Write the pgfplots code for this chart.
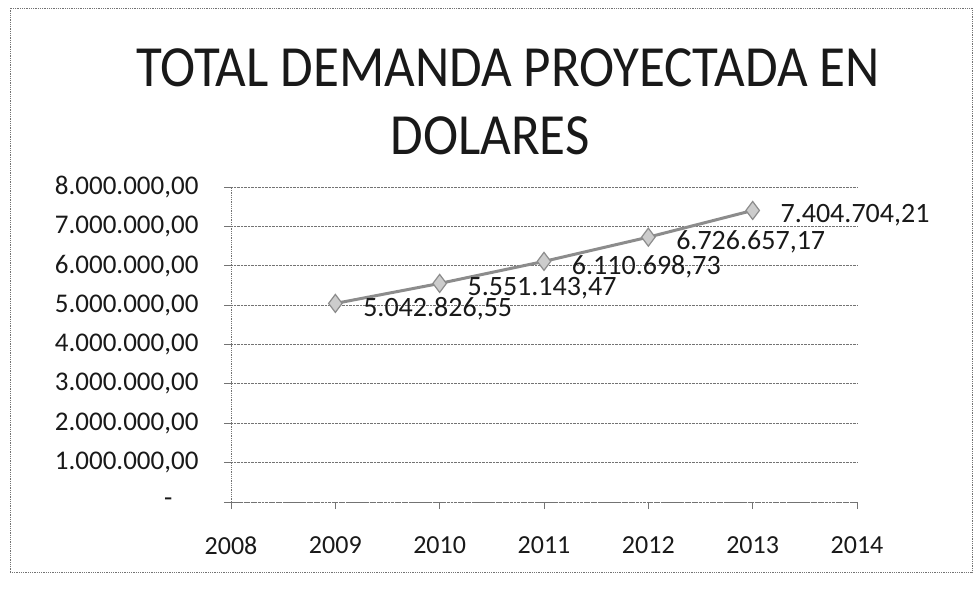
\documentclass[border=0pt]{standalone}
\usepackage{fontspec}
\setmainfont{Carlito}
\usepackage{pgfplots}
\pgfplotsset{compat=1.18}
\begin{document}
\begin{tikzpicture}[x=1pt,y=1pt]
\useasboundingbox (0,0) rectangle (976,598);
\draw[black!55, densely dotted, line width=0.8pt] (10,26) rectangle (972,590);
\node[font=\fontsize{53}{60}\selectfont, black!90, yscale=1.1] at (508,530) {TOTAL DEMANDA PROYECTADA EN};
\node[font=\fontsize{53}{60}\selectfont, black!90, yscale=1.1] at (490,462) {DOLARES};
\begin{axis}[
  at={(231pt,96pt)}, anchor=south west,
  scale only axis, width=626pt, height=315pt,
  xmin=2008, xmax=2014, ymin=0, ymax=8000000,
  xtick={2008,2009,2010,2011,2012,2013,2014},
  xticklabels={2008,2009,2010,2011,2012,2013,2014},
  ytick={0,1000000,2000000,3000000,4000000,5000000,6000000,7000000,8000000},
  yticklabels={{-\rule{26pt}{0pt}},{1.000.000,00},{2.000.000,00},{3.000.000,00},{4.000.000,00},{5.000.000,00},{6.000.000,00},{7.000.000,00},{8.000.000,00}},
  scaled y ticks=false,
  axis x line*=bottom, axis y line*=left,
  axis line style={black!55, densely dotted, line width=0.8pt},
  tick style={black!55, line width=0.8pt},
  tick align=outside, major tick length=7pt,
  ymajorgrids, grid style={black!55, densely dotted, line width=0.8pt},
  yticklabel style={font=\fontsize{27}{30}\selectfont, black!90, xshift=-22pt},
  xticklabel style={font=\fontsize{26}{30}\selectfont, black!90, yshift=-24pt},
  clip=false,
]
\addplot[black!45, line width=3pt, mark=diamond*, mark size=9pt,
  mark options={fill=black!20, draw=black!45, line width=1.2pt},
  nodes near coords, point meta=explicit symbolic,
  every node near coord/.style={anchor=west, xshift=24pt, yshift=-5pt,
    font=\fontsize{28}{30}\selectfont, black!90}]
coordinates {
 (2009,5042826.55) [5.042.826,55]
 (2010,5551143.47) [5.551.143,47]
 (2011,6110698.73) [6.110.698,73]
 (2012,6726657.17) [6.726.657,17]
 (2013,7404704.21) [7.404.704,21]
};
\end{axis}
\end{tikzpicture}
\end{document}
